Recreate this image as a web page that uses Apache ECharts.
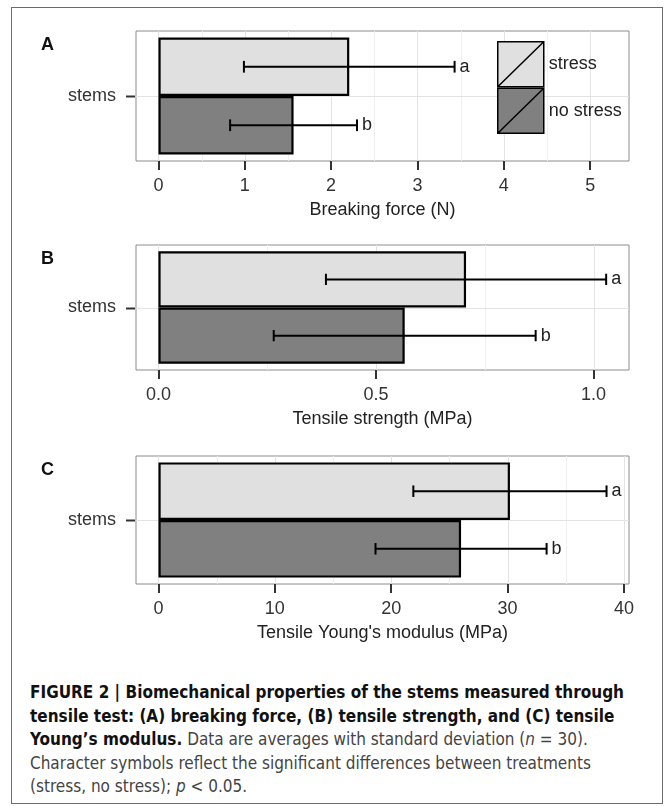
<!DOCTYPE html>
<html>
<head>
<meta charset="utf-8">
<script src="https://cdn.jsdelivr.net/npm/echarts@6/dist/echarts.min.js"></script>
<style>
html, body { margin: 0; padding: 0; background: #fff; }
#frame { position: absolute; left: 11px; top: 7px; width: 652px; height: 797px; border: 1.5px solid #6b6b6b; box-sizing: border-box; }
#chart { position: absolute; left: 0; top: 0; width: 671px; height: 660px; }
#caption { position: absolute; left: 30px; top: 680px; font-family: "Liberation Sans Narrow", "DejaVu Sans Condensed", "Liberation Sans", sans-serif; font-size: 18px; line-height: 23.5px; color: #444; white-space: nowrap; transform-origin: 0 0; }
#caption b { color: #111; }
</style>
</head>
<body>
<div id="frame"></div>
<div id="chart"></div>
<div id="caption">
  <div><span id="l1"><b>FIGURE 2 | Biomechanical properties of the stems measured through</b></span></div>
  <div><b>tensile test: (A) breaking force, (B) tensile strength, and (C) tensile</b></div>
  <div><b>Young’s modulus.</b> Data are averages with standard deviation (<i>n</i> = 30).</div>
  <div>Character symbols reflect the significant differences between treatments</div>
  <div>(stress, no stress); <i>p</i> &lt; 0.05.</div>
</div>
<script>
const groups = ['stress', 'no stress']
const category = ['stems']
const letters = ['a', 'b']
const fills = ['#e0e0e0', '#808080']

// A: breaking force (N)
const forceMean = [2.21, 1.565]
const forceSd = [1.22, 0.735]
const forceTicks = [0, 1, 2, 3, 4, 5]
// B: tensile strength (MPa)
const strengthMean = [0.707, 0.566]
const strengthSd = [0.322, 0.301]
const strengthTicks = [0, 0.5, 1.0]
// C: tensile Young's modulus (MPa)
const modulusMean = [30.2, 26.0]
const modulusSd = [8.3, 7.35]
const modulusTicks = [0, 10, 20, 30, 40]

const FONT = '"Liberation Sans", Arial, sans-serif'

const panels = [
  { label: 'A', name: 'Breaking force (N)', mean: forceMean, sd: forceSd, ticks: forceTicks, min: -0.26, max: 5.45, top: 31, height: 130, digits: 0 },
  { label: 'B', name: 'Tensile strength (MPa)', mean: strengthMean, sd: strengthSd, ticks: strengthTicks, min: -0.0515, max: 1.0815, top: 245, height: 125, digits: 1 },
  { label: 'C', name: "Tensile Young's modulus (MPa)", mean: modulusMean, sd: modulusSd, ticks: modulusTicks, min: -1.93, max: 40.43, top: 456, height: 128, digits: 0 },
]

function vline(x, y1, y2, color) {
  const px = Math.round(x) + 0.5
  return { type: 'line', shape: { x1: px, y1, x2: px, y2 }, style: { stroke: color, lineWidth: 1 } }
}

const series = []
panels.forEach((p, i) => {
  const minor = p.ticks.slice(1).map((t, k) => (t + p.ticks[k]) / 2)
  // 背景网格线 + y轴刻度
  series.push({
    type: 'custom',
    xAxisIndex: i,
    yAxisIndex: i,
    z: 1,
    silent: true,
    data: [[0, 0]],
    renderItem(params, api) {
      const cs = params.coordSys
      const cy = Math.round(api.coord([0, 0])[1]) + 0.5
      const children = []
      minor.forEach(v => children.push(vline(api.coord([v, 0])[0], cs.y, cs.y + cs.height, '#f0f0f0')))
      p.ticks.forEach(v => children.push(vline(api.coord([v, 0])[0], cs.y, cs.y + cs.height, '#e3e3e3')))
      children.push({ type: 'line', shape: { x1: cs.x, y1: cy, x2: cs.x + cs.width, y2: cy }, style: { stroke: '#e3e3e3', lineWidth: 1 } })
      children.push({ type: 'line', shape: { x1: cs.x - 10, y1: cy, x2: cs.x - 1, y2: cy }, style: { stroke: '#333', lineWidth: 2 } })
      return { type: 'group', children }
    },
  })
  groups.forEach((g, k) => {
    series.push({
      type: 'bar',
      name: g,
      xAxisIndex: i,
      yAxisIndex: i,
      barGap: '0%',
      barCategoryGap: '10%',
      silent: true,
      itemStyle: { color: fills[k], borderColor: '#000', borderWidth: 2.2 },
      data: [p.mean[k]],
    })
  })
  // 误差线和显著性字母
  series.push({
    type: 'custom',
    xAxisIndex: i,
    yAxisIndex: i,
    z: 3,
    silent: true,
    encode: { x: 0, y: 3 },
    data: p.mean.map((m, k) => [m, p.sd[k], k, 0]),
    renderItem(params, api) {
      const m = api.value(0), s = api.value(1), k = api.value(2)
      const band = api.size([0, 1])[1]
      const cy = api.coord([m, 0])[1] + (k === 0 ? -1 : 1) * band * 0.225
      const xl = api.coord([m - s, 0])[0]
      const xr = api.coord([m + s, 0])[0]
      const h = band * 0.09
      const st = { stroke: '#000', lineWidth: 2 }
      return {
        type: 'group',
        children: [
          { type: 'line', shape: { x1: xl, y1: cy, x2: xr, y2: cy }, style: st },
          { type: 'line', shape: { x1: xl, y1: cy - h / 2, x2: xl, y2: cy + h / 2 }, style: st },
          { type: 'line', shape: { x1: xr, y1: cy - h / 2, x2: xr, y2: cy + h / 2 }, style: st },
          { type: 'text', style: { text: letters[k], x: xr + 5, y: cy, verticalAlign: 'middle', fontSize: 18, fontFamily: FONT, fill: '#222' } },
        ],
      }
    },
  })
})

const option = {
  animation: false,
  textStyle: { fontFamily: FONT },
  title: panels.map(p => ({
    text: p.label,
    left: 41,
    top: p.top + 5,
    padding: 0,
    textStyle: { fontSize: 18, fontWeight: 'bold', color: '#111', fontFamily: FONT },
  })),
  legend: {
    data: groups,
    orient: 'vertical',
    left: 497,
    top: 41,
    padding: 0,
    itemWidth: 46,
    itemHeight: 45,
    itemGap: 0,
    selectedMode: false,
    icon: 'path://M0,45V0H46V45Z M0,45L46,0',
    itemStyle: { borderColor: '#000', borderWidth: 1.5 },
    textStyle: { fontSize: 18, color: '#222' },
  },
  grid: panels.map(p => ({
    left: 136,
    right: 42,
    top: p.top,
    height: p.height,
    show: true,
    borderColor: '#8c8c8c',
    borderWidth: 1,
    containLabel: false,
    outerBoundsMode: 'none',
  })),
  xAxis: panels.map((p, i) => ({
    gridIndex: i,
    type: 'value',
    min: p.min,
    max: p.max,
    name: p.name,
    nameLocation: 'middle',
    nameGap: 40,
    nameTextStyle: { fontSize: 18, color: '#222' },
    axisLine: { show: false },
    splitLine: { show: false },
    axisTick: { show: true, customValues: p.ticks, length: 9, lineStyle: { color: '#333', width: 2 } },
    axisLabel: { customValues: p.ticks, fontSize: 18, color: '#333', margin: 16, formatter: v => Number(v).toFixed(p.digits) },
  })),
  yAxis: panels.map((p, i) => ({
    gridIndex: i,
    type: 'category',
    data: category,
    inverse: true,
    axisLine: { show: false },
    axisTick: { show: false },
    splitLine: { show: false },
    axisLabel: { fontSize: 18, color: '#333', margin: 20 },
  })),
  series,
}

const chart = echarts.init(document.getElementById('chart'))
chart.setOption(option)

// 图注按参考宽度横向缩放
const cap = document.getElementById('caption')
const w = document.getElementById('l1').getBoundingClientRect().width
if (w > 0) cap.style.transform = 'scaleX(' + (594 / w) + ')'
</script>
</body>
</html>
